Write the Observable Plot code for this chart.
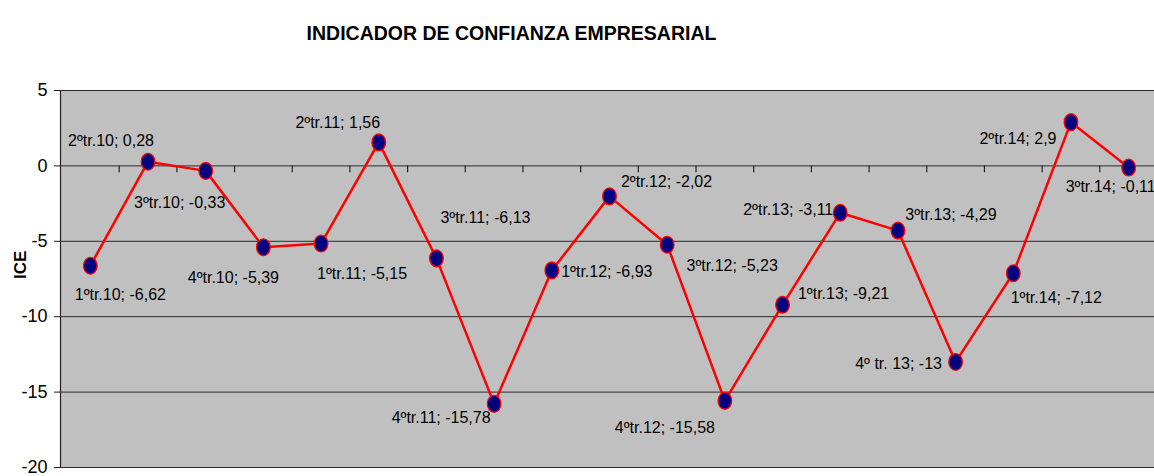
<!DOCTYPE html>
<html>
<head>
<meta charset="utf-8">
<script src="https://cdn.jsdelivr.net/npm/d3@7"></script>
<script src="https://cdn.jsdelivr.net/npm/@observablehq/plot@0.6"></script>
<style>
  html, body { margin: 0; padding: 0; background: #fff; }
  #chart svg { display: block; }
</style>
</head>
<body>
<div id="chart"></div>
<script>
// ---- data ----
const quarters = [
  "1ºtr.10", "2ºtr.10", "3ºtr.10", "4ºtr.10",
  "1ºtr.11", "2ºtr.11", "3ºtr.11", "4ºtr.11",
  "1ºtr.12", "2ºtr.12", "3ºtr.12", "4ºtr.12",
  "1ºtr.13", "2ºtr.13", "3ºtr.13", "4º tr. 13",
  "1ºtr.14", "2ºtr.14", "3ºtr.14"
];
const iceValues = [
  -6.62, 0.28, -0.33, -5.39,
  -5.15, 1.56, -6.13, -15.78,
  -6.93, -2.02, -5.23, -15.58,
  -9.21, -3.11, -4.29, -13,
  -7.12, 2.9, -0.11
];
const yTicks = [5, 0, -5, -10, -15, -20];
const titleText = "INDICADOR DE CONFIANZA EMPRESARIAL";
const yLabel = "ICE";

// label offsets (px) from each point, as in the reference layout
const labelOffsets = [
  [30, 29], [-37, -21], [-26, 32], [-30, 31],
  [41, 30], [-41, -20], [49, -40], [-53, 14],
  [55, 1], [57, -14], [65, 21], [-60, 27],
  [61, -11], [-52, -3], [53, -16], [-57, 2],
  [43, 25], [-53, 17], [-18, 19]
];

const data = quarters.map((q, i) => ({
  i, q, v: iceValues[i],
  label: `${q}; ${String(iceValues[i]).replace(".", ",")}`
}));
const boundaries = d3.range(0.5, quarters.length - 0.5, 1);

// ellipse-shaped marker (Excel style)
const ellipse = {
  draw(ctx, size) {
    const r = Math.sqrt(size / Math.PI);
    const rx = r * 0.85, ry = r * 1.05, k = 0.5523;
    ctx.moveTo(rx, 0);
    ctx.bezierCurveTo(rx, ry * k, rx * k, ry, 0, ry);
    ctx.bezierCurveTo(-rx * k, ry, -rx, ry * k, -rx, 0);
    ctx.bezierCurveTo(-rx, -ry * k, -rx * k, -ry, 0, -ry);
    ctx.bezierCurveTo(rx * k, -ry, rx, -ry * k, rx, 0);
    ctx.closePath();
  }
};

const chart = Plot.plot({
  width: 1154,
  height: 476,
  marginTop: 90,
  marginBottom: 9,
  marginLeft: 60,
  marginRight: 0,
  style: { fontFamily: "'Liberation Sans', Arial, sans-serif", fontSize: "16px", color: "#000", background: "#fff", overflow: "visible" },
  x: { domain: [-0.5, quarters.length - 0.5], range: [61, 1157], axis: null },
  y: { domain: [-20, 5], range: [467, 90], axis: null },
  marks: [
    Plot.frame({ fill: "#c0c0c0", stroke: null }),
    Plot.ruleY(yTicks, { stroke: "#2a2a2a", strokeWidth: 1 }),
    Plot.frame({ anchor: "left", stroke: "#222", strokeWidth: 1.2 }),
    Plot.axisY({ ticks: yTicks, label: null, tickSize: 6, tickPadding: 7, fontSize: 18, tickFormat: d => String(d), stroke: "#222" }),
    Plot.ruleX(boundaries, { x: d => d, y1: 0, y2: -0.45, stroke: "#222", strokeWidth: 1.2 }),
    Plot.line(data, { x: "i", y: "v", stroke: "#ff0000", strokeWidth: 2.5 }),
    Plot.dot(data, { x: "i", y: "v", r: 8, symbol: ellipse, fill: "#000080", stroke: "#ff0000", strokeWidth: 1.3 }),
    ...data.map((d, i) => Plot.text([d], {
      x: "i", y: "v", text: "label",
      dx: labelOffsets[i][0], dy: labelOffsets[i][1],
      fontSize: 16, fill: "#000"
    })),
    Plot.text([yLabel], { frameAnchor: "left", dx: -40, rotate: -90, fontWeight: "bold", fontSize: 17, fill: "#000" }),
    Plot.text([titleText], { frameAnchor: "top", dx: -96, dy: -64, fontWeight: "bold", fontSize: 19.5, fill: "#000" })
  ]
});
document.getElementById("chart").append(chart);
</script>
</body>
</html>
